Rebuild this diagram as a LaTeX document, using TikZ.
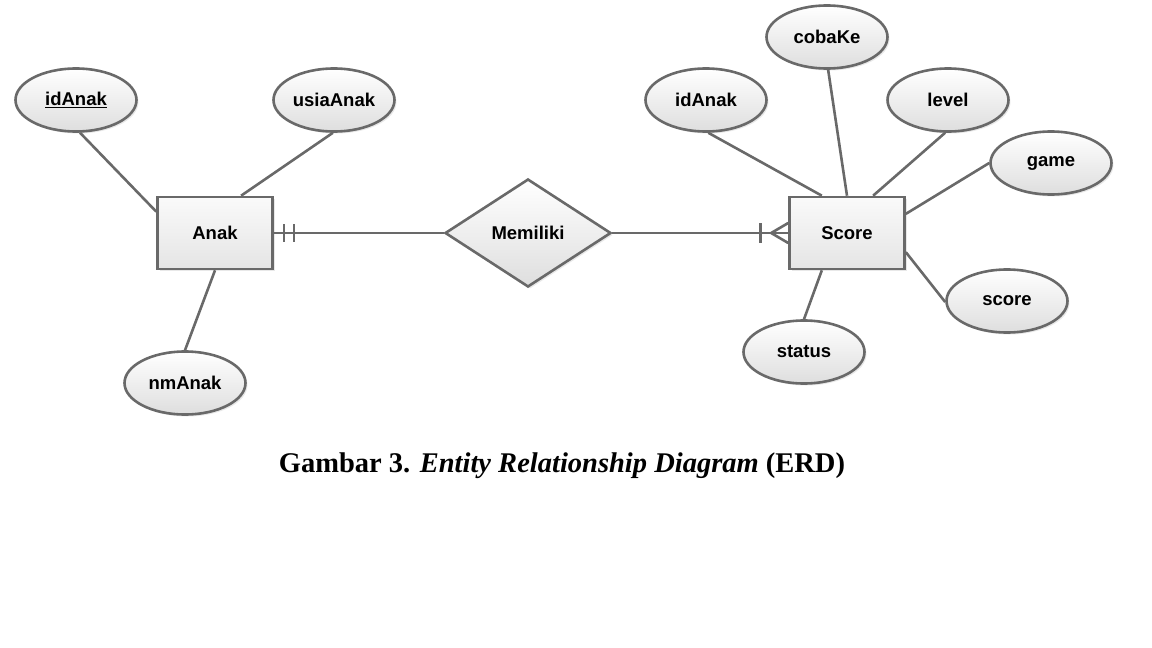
\documentclass[tikz,border=0pt]{standalone}
\usepackage{fontspec}
\setmainfont{Liberation Serif}
\newfontfamily\erdfont{Liberation Sans}
\usetikzlibrary{shapes.geometric,shadows}

\definecolor{erdline}{RGB}{105,105,105}
\definecolor{erdfill}{RGB}{222,222,222}

\tikzset{every picture/.style={line width=2.6pt}}
\tikzset{
  erdshape/.style={draw=erdline, top color=white, bottom color=erdfill,
    drop shadow={opacity=0.18, shadow xshift=2pt, shadow yshift=-2pt},
    font=\erdfont\bfseries\fontsize{18.5}{20}\selectfont, inner sep=0pt},
  entity/.style={erdshape, rectangle, minimum width=115pt, minimum height=72pt,
    top color=white!96!gray, bottom color=erdfill!80!white},
  attrib/.style={erdshape, ellipse, minimum width=121pt, minimum height=63pt},
  relation/.style={erdshape, diamond, minimum width=166pt, minimum height=108pt},
  link/.style={draw=erdline},
}

\begin{document}
\begin{tikzpicture}[x=1pt,y=1pt,yscale=-1,xscale=1]
        \useasboundingbox (0,0) rectangle (1152,648);
        % entities and relationship
        \node [entity] (anak) at (215,233) {Anak};
        \node [entity] (score) at (847,233) {Score};
        \node [relation] (memiliki) at (528,233) {Memiliki};
        % attributes of Anak
        \node [attrib] (idAnak) at (76,100) {\underline{idAnak}};
        \node [attrib] (usiaAnak) at (334,100) {usiaAnak};
        \node [attrib] (nmAnak) at (185,383) {nmAnak};
        % attributes of Score
        \node [attrib] (cobaKe) at (827,37) {cobaKe};
        \node [attrib] (idAnakS) at (706,100) {idAnak};
        \node [attrib] (level) at (948,100) {level};
        \node [attrib] (game) at (1051,163) {game};
        \node [attrib] (scoreVal) at (1007,301) {score};
        \node [attrib] (status) at (804,352) {status};
        % attribute links
        \draw [link] (idAnak.277) -- (anak.160);
        \draw [link] (usiaAnak.268) -- (anak.55);
        \draw [link] (nmAnak.north) -- (anak.south);
        \draw [link] (idAnakS.274) -- (score.124);
        \draw [link] (cobaKe.272) -- (score.north);
        \draw [link] (level.265) -- (score.55);
        \draw [link] (game.west) -- (score.18);
        \draw [link] (scoreVal.181) -- (score.-18);
        \draw [link] (status.north) -- (score.236);
        % relationship links
        \draw [link] (anak.east) -- (memiliki.west);
        \draw [link] (memiliki.east) -- (score.west);
        % one and only one
        \draw [link] ([xshift=10pt]anak.east) ++(0,-9) -- ++(0,18);
        \draw [link] ([xshift=20pt]anak.east) ++(0,-9) -- ++(0,18);
        % one or many
        \coordinate (crow) at ([xshift=-17pt]score.west);
        \draw [link] ([xshift=-28pt]score.west) ++(0,-10) -- ++(0,20);
        \draw [link] ([yshift=-10pt]score.west) -- (crow) -- ([yshift=10pt]score.west);
        % caption
        \node (caption) at (562,466) {\fontsize{28.5}{34}\selectfont\bfseries Gambar 3. \textit{Entity Relationship Diagram} (ERD)};
\end{tikzpicture}
\end{document}
